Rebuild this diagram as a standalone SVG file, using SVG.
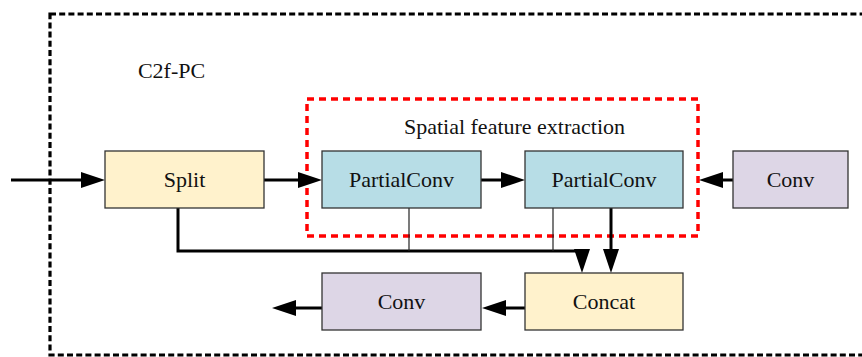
<svg xmlns="http://www.w3.org/2000/svg" width="862" height="357" viewBox="0 0 862 357">
  <style>
    .box { stroke: #333333; stroke-width: 1.3; }
    .yel { fill: #fff2cc; }
    .blu { fill: #b7dde6; }
    .pur { fill: #ddd6e6; }
    .lbl { font-family: "Liberation Serif", "Times New Roman", serif; font-size: 22px; fill: #111111; text-anchor: middle; }
    .thick { stroke: #000; stroke-width: 3; fill: none; }
    .thin { stroke: #222; stroke-width: 1.2; fill: none; }
  </style>
  <defs>
    <marker id="ah" viewBox="0 0 24 16" refX="14" refY="8" markerWidth="24" markerHeight="16" markerUnits="userSpaceOnUse" orient="auto">
      <path d="M0,0 L24,8 L0,16 Z" fill="#000"/>
    </marker>
  </defs>

  <g id="outer-group">
    <rect x="50" y="14" width="830" height="341" fill="none" stroke="#000" stroke-width="3.2" stroke-dasharray="6 3.2"/>
    <text class="lbl" x="171.5" y="78">C2f-PC</text>
  </g>

  <g id="spatial-group">
    <rect x="307" y="99" width="391" height="137" fill="none" stroke="#ff0000" stroke-width="3.5" stroke-dasharray="7 5"/>
    <text class="lbl" x="514.5" y="134">Spatial feature extraction</text>
  </g>

  <g id="connectors">
    <line class="thick" x1="11" y1="180" x2="95" y2="180" marker-end="url(#ah)"/>
    <line class="thick" x1="264" y1="180" x2="312" y2="180" marker-end="url(#ah)"/>
    <line class="thick" x1="481" y1="180" x2="515" y2="180" marker-end="url(#ah)"/>
    <line class="thick" x1="733" y1="180" x2="709" y2="180" marker-end="url(#ah)"/>
    <polyline class="thick" points="178,208 178,251 582,251 582,263" marker-end="url(#ah)"/>
    <line class="thin" x1="409" y1="208" x2="409" y2="251"/>
    <line class="thin" x1="553" y1="208" x2="553" y2="251"/>
    <line class="thick" x1="611" y1="208" x2="611" y2="263" marker-end="url(#ah)"/>
    <line class="thick" x1="525" y1="308" x2="492" y2="308" marker-end="url(#ah)"/>
    <line class="thick" x1="322" y1="308" x2="282" y2="308" marker-end="url(#ah)"/>
  </g>

  <g id="split">
    <rect class="box yel" x="105" y="151" width="159" height="57"/>
    <text class="lbl" x="184.5" y="187">Split</text>
  </g>
  <g id="partialconv1">
    <rect class="box blu" x="322" y="151" width="159" height="57"/>
    <text class="lbl" x="401.5" y="187">PartialConv</text>
  </g>
  <g id="partialconv2">
    <rect class="box blu" x="525" y="151" width="158" height="57"/>
    <text class="lbl" x="604" y="187">PartialConv</text>
  </g>
  <g id="conv-right">
    <rect class="box pur" x="733" y="151" width="115" height="57"/>
    <text class="lbl" x="790.5" y="187">Conv</text>
  </g>
  <g id="conv-bottom">
    <rect class="box pur" x="322" y="273" width="159" height="57"/>
    <text class="lbl" x="401.5" y="309">Conv</text>
  </g>
  <g id="concat">
    <rect class="box yel" x="525" y="273" width="158" height="57"/>
    <text class="lbl" x="604" y="309">Concat</text>
  </g>
</svg>
